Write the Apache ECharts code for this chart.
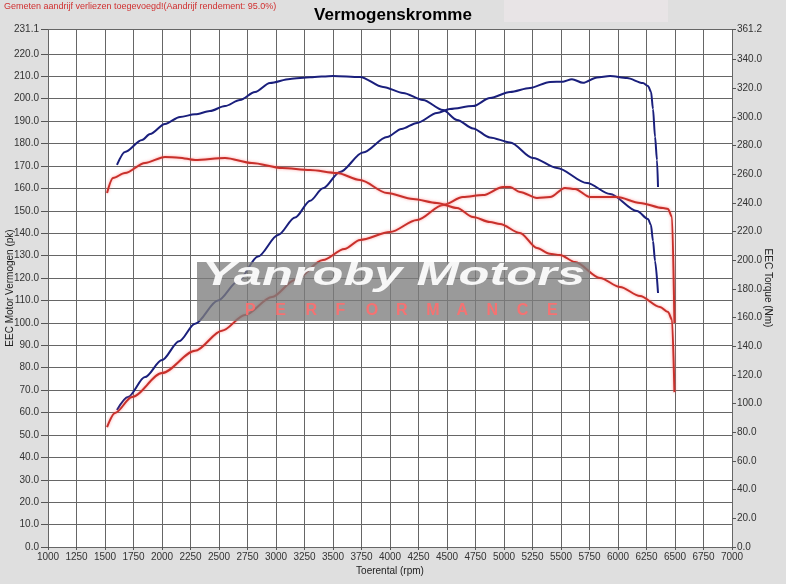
<!DOCTYPE html>
<html><head><meta charset="utf-8">
<script src="https://cdn.jsdelivr.net/npm/echarts@6/dist/echarts.min.js"></script>
<style>html,body{margin:0;padding:0;background:#dfdfdf}#c{width:786px;height:584px}</style>
</head><body><div id="c"></div>
<script>
// Tick values
const rpmMin = 1000, rpmMax = 7000, rpmStep = 250;
const leftTicks = [0,10,20,30,40,50,60,70,80,90,100,110,120,130,140,150,160,170,180,190,200,210,220,231.1];
const rightTicks = [0,20,40,60,80,100,120,140,160,180,200,220,240,260,280,300,320,340,361.2];

// Blue run: power (pk) and torque (Nm)  [rpm, value]
const bluePower = [[1605,61.1],[1702,66.9],[1851,75.8],[2000,83.4],[2150,91.8],[2290,99.6],[2491,110.0],[2667,118.6],[2842,129.6],[3018,139.2],[3167,147.0],[3300,154.5],[3412,160.0],[3561,167.3],[3763,176.0],[3974,182.9],[4100,186.5],[4237,189.2],[4412,193.6],[4526,195.4],[4728,196.7],[4877,200.3],[5053,203.0],[5228,204.8],[5404,207.5],[5518,207.6],[5596,208.7],[5693,207.1],[5816,209.5],[5930,210.1],[6079,209.2],[6219,207.0],[6263,205.7],[6290,203.0],[6307,195.4],[6325,183.0],[6342,172.7],[6351,160.6]];
const blueTorque = [[1605,266.4],[1675,275.5],[1825,283.8],[1895,288.0],[2026,295.0],[2158,299.9],[2290,301.7],[2421,304.0],[2553,307.5],[2684,311.7],[2816,317.3],[2947,323.6],[3123,326.4],[3300,327.5],[3500,328.5],[3737,327.8],[3939,320.8],[4114,316.6],[4289,311.7],[4465,304.7],[4588,297.8],[4728,291.9],[4877,285.6],[5053,282.1],[5254,271.3],[5465,264.3],[5728,253.8],[5930,246.2],[6167,234.3],[6263,228.7],[6289,224.5],[6307,213.4],[6325,199.4],[6351,177.1]];

// Red run: power (pk) and torque (Nm)  [rpm, value]
const redPower = [[1518,53.5],[1588,59.8],[1737,66.9],[2000,77.6],[2290,87.5],[2526,96.5],[2728,103.5],[2965,111.5],[3167,119.1],[3412,128.0],[3600,133.0],[3737,137.0],[4000,140.5],[4237,145.9],[4465,152.6],[4640,156.1],[4816,157.0],[4991,160.6],[5053,160.6],[5140,158.4],[5289,155.7],[5404,156.1],[5535,160.2],[5623,159.7],[5754,156.1],[5991,156.1],[6193,153.5],[6395,151.2],[6439,150.8],[6474,147.2],[6495,99.9]];
const redTorque = [[1518,246.9],[1570,257.3],[1675,260.8],[1851,267.8],[2026,272.0],[2150,271.5],[2290,269.9],[2553,271.3],[2789,267.8],[3053,264.3],[3298,262.9],[3535,260.8],[3737,255.9],[3974,246.9],[4202,242.7],[4412,239.9],[4588,236.4],[4728,230.1],[4877,226.6],[4965,225.2],[5140,219.0],[5289,208.5],[5400,204.5],[5491,203.6],[5623,198.7],[5842,187.6],[6018,181.3],[6193,175.0],[6368,167.4],[6439,163.9],[6474,158.5],[6495,108.0]];

const FONT = 'Liberation Sans';
const LABEL_FONT = '"Liberation Sans Narrow", "Liberation Sans"';
const chart = echarts.init(document.getElementById('c'), null, {renderer:'canvas'});

function measure(txt, font){
  const cv = document.createElement('canvas').getContext('2d');
  cv.font = font; return cv.measureText(txt).width;
}
const wmText = 'Yanroby Motors';
const wmW = measure(wmText, 'italic bold 32px "' + FONT + '"');
const wmScale = 383 / wmW;
const perf = 'PERFORMANCE'.split('');
const perfEls = perf.map((ch, i) => ({
  type:'text', z:100, left: 245 + i*30.2, top: 303,
  style:{text:ch, fill:'rgba(255,110,110,0.9)', font:'bold 16px "' + FONT + '"'}
}));

const blueStyle = {color:'#1a1f7c', width:2};
const redStyle = {color:'#c8302b', width:2, shadowColor:'rgba(255,110,110,0.7)', shadowBlur:3};
function line(name, data, yIdx, ls){
  return {name, type:'line', data, yAxisIndex:yIdx, showSymbol:false, smooth:0.3, smoothMonotone:'x',
          lineStyle:ls, itemStyle:{color:ls.color}, z:3, animation:false};
}
const labelStyle = {fontFamily:LABEL_FONT, fontSize:10, color:'#333'};
const nameStyle = {fontFamily:FONT, fontSize:10, color:'#222'};

chart.setOption({
  backgroundColor:'#dfdfdf',
  animation:false,
  title:{text:'Vermogenskromme', left:'center', top:2,
         textStyle:{fontFamily:FONT, fontWeight:'bold', fontSize:17, color:'#000'}},
  graphic:[
    {type:'rect', z:-1, shape:{x:504, y:0, width:164, height:22}, style:{fill:'#e8e4e6'}},
    {type:'text', left:4, top:2, style:{text:'Gemeten aandrijf verliezen toegevoegd!(Aandrijf rendement: 95.0%)',
       fill:'#d03030', font:'9px "' + FONT + '"'}},
    {type:'rect', z:99, shape:{x:197, y:262, width:393, height:59}, style:{fill:'rgba(125,125,125,0.78)'}},
    {type:'text', z:100, x:202, y:259, scaleX:wmScale, scaleY:1.05,
       style:{text:wmText, fill:'rgba(255,255,255,0.92)', font:'italic bold 32px "' + FONT + '"'}},
    ...perfEls
  ],
  grid:{left:48, right:54, top:29, bottom:37, containLabel:false, outerBoundsMode:'none',
        show:true, backgroundColor:'#ffffff', borderWidth:0},
  xAxis:{type:'value', min:rpmMin, max:rpmMax, interval:rpmStep,
    name:'Toerental (rpm)', nameLocation:'middle', nameGap:19, nameMoveOverlap:false,
    nameTextStyle:nameStyle,
    axisLine:{show:false}, axisTick:{show:true, length:3, lineStyle:{color:'#555'}},
    axisLabel:Object.assign({margin:5, formatter:v => String(v)}, labelStyle),
    splitLine:{show:true, lineStyle:{color:'#666', width:1}}},
  yAxis:[
    {type:'value', min:0, max:231.1, position:'left',
     name:'EEC Motor Vermogen (pk)', nameLocation:'middle', nameGap:33, nameRotate:90, nameMoveOverlap:false,
     nameTextStyle:nameStyle,
     axisLine:{show:false},
     axisTick:{show:true, length:7, customValues:leftTicks, lineStyle:{color:'#555'}},
     axisLabel:Object.assign({customValues:leftTicks, margin:9, formatter:v => Number(v).toFixed(1)}, labelStyle),
     splitLine:{show:true, lineStyle:{color:'#666', width:1}}},
    {type:'value', min:0, max:361.2, position:'right',
     name:'EEC Torque (Nm)', nameLocation:'middle', nameGap:31, nameRotate:-90, nameMoveOverlap:false,
     nameTextStyle:nameStyle,
     axisLine:{show:false},
     axisTick:{show:true, length:4, customValues:rightTicks, lineStyle:{color:'#555'}},
     axisLabel:Object.assign({customValues:rightTicks, margin:5, formatter:v => Number(v).toFixed(1)}, labelStyle),
     splitLine:{show:false}}
  ],
  series:[
    line('Blue vermogen', bluePower, 0, blueStyle),
    line('Blue torque', blueTorque, 1, blueStyle),
    line('Red vermogen', redPower, 0, redStyle),
    line('Red torque', redTorque, 1, redStyle)
  ]
});
</script></body></html>
